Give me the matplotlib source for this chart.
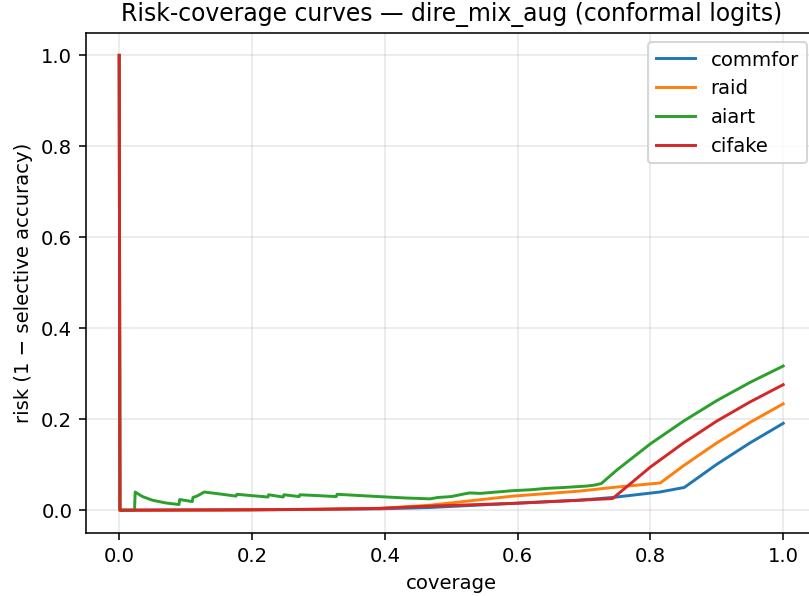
import matplotlib
matplotlib.use("Agg")
import matplotlib.pyplot as plt

# values
commfor_cov = [0.0, 0.001, 0.2, 0.3, 0.392, 0.468, 0.593, 0.693, 0.743, 0.814, 0.851, 0.9, 0.95, 1.0]
commfor_risk = [1.0, 0.0, 0.001, 0.002, 0.003, 0.006, 0.015, 0.022, 0.028, 0.040, 0.050, 0.101, 0.148, 0.191]

raid_cov = [0.0, 0.001, 0.15, 0.3, 0.392, 0.468, 0.593, 0.693, 0.743, 0.815, 0.85, 0.9, 0.95, 1.0]
raid_risk = [1.0, 0.0, 0.0, 0.002, 0.004, 0.011, 0.031, 0.042, 0.050, 0.060, 0.098, 0.148, 0.193, 0.234]

aiart_cov = [0.0, 0.001, 0.023, 0.024, 0.035, 0.05, 0.07, 0.090, 0.091, 0.110, 0.111, 0.117, 0.122,
             0.128, 0.15, 0.176, 0.177, 0.2, 0.224, 0.225, 0.247, 0.248, 0.271, 0.272, 0.3,
             0.327, 0.328, 0.39, 0.43, 0.468, 0.48, 0.5, 0.52, 0.528, 0.544, 0.56, 0.593,
             0.62, 0.643, 0.67, 0.703, 0.715, 0.726, 0.75, 0.8, 0.85, 0.9, 0.95, 1.0]
aiart_risk = [1.0, 0.0, 0.0, 0.040, 0.030, 0.022, 0.016, 0.0125, 0.0235, 0.019, 0.028, 0.031, 0.035,
              0.040, 0.036, 0.031, 0.035, 0.032, 0.029, 0.034, 0.029, 0.034, 0.030, 0.034, 0.032,
              0.030, 0.035, 0.030, 0.027, 0.025, 0.028, 0.030, 0.036, 0.038, 0.037, 0.039, 0.043,
              0.045, 0.048, 0.050, 0.053, 0.055, 0.0586, 0.089, 0.146, 0.196, 0.241, 0.281, 0.317]

cifake_cov = [0.0, 0.001, 0.2, 0.3, 0.392, 0.468, 0.593, 0.693, 0.743, 0.8, 0.85, 0.9, 0.95, 1.0]
cifake_risk = [1.0, 0.0, 0.001, 0.002, 0.004, 0.009, 0.015, 0.022, 0.0256, 0.095, 0.148, 0.196, 0.238, 0.276]

series = [
    ("commfor", commfor_cov, commfor_risk),
    ("raid", raid_cov, raid_risk),
    ("aiart", aiart_cov, aiart_risk),
    ("cifake", cifake_cov, cifake_risk),
]

fig = plt.figure(figsize=(809.4 / 141, 596.4 / 141), dpi=141)
ax = fig.add_axes([86 / 809, 63 / 596, 730 / 809, 500 / 596])

for name, cov, risk in series:
    ax.plot(cov, risk, label=name)

ax.set_xlabel("coverage")
ax.set_ylabel("risk (1 \u2212 selective accuracy)")
ax.set_title("Risk-coverage curves \u2014 dire_mix_aug (conformal logits)")
ax.grid(True, alpha=0.3)
ax.legend(loc="upper right")

fig.savefig("out.png", dpi=141)
